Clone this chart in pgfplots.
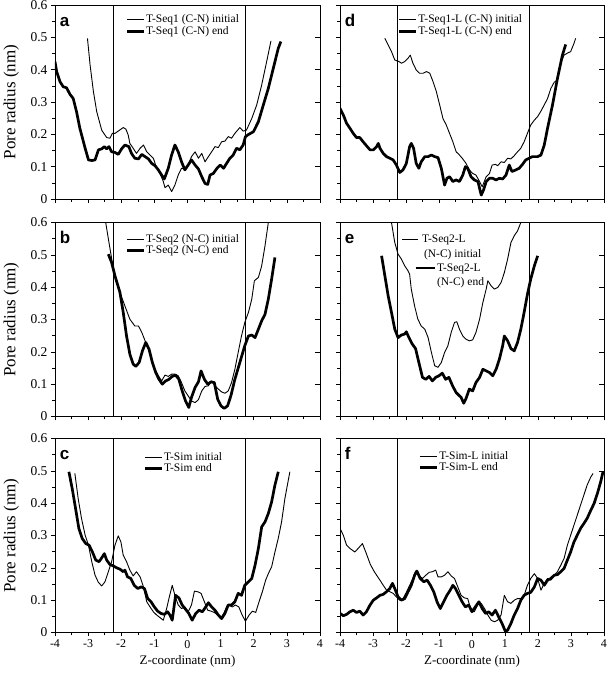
\documentclass[border=0pt]{standalone}
\usepackage{fontspec}
\setmainfont{Liberation Serif}
\newfontfamily\panelfont{Liberation Sans}
\usepackage{pgfplots}
\pgfplotsset{compat=1.18}
\pgfplotsset{
  panel/.style={
    scale only axis, height=194pt,
    xmin=-4, xmax=4, ymin=0, ymax=0.6,
    xtick={-4,-3,-2,-1,0,1,2,3,4}, minor x tick num=1,
    ytick={0,0.1,0.2,0.3,0.4,0.5,0.6}, minor y tick num=1,
    xtick pos=bottom, ytick pos=left,
    tick align=outside,
    major tick length=4pt, minor tick length=3pt,
    tick style={black, line width=0.6pt},
    axis line style={black, line width=0.8pt},
    /pgf/number format/assume math mode=true,
    xticklabel style={font=\fontsize{12}{12}\selectfont},
    yticklabel style={font=\fontsize{13.5}{14}\selectfont, /pgf/number format/fixed, /pgf/number format/precision=1},
    xlabel style={font=\fontsize{13}{14}\selectfont},
    ylabel style={font=\fontsize{17}{18}\selectfont, at={(axis description cs:-0.165,0.5)}, anchor=center, rotate=0},
    legend cell align=left,
    legend image code/.code={\draw[##1] (0pt,0pt) -- (17pt,0pt);},
    legend style={draw=none, fill=none, anchor=north west, inner sep=0pt,
      nodes={inner sep=1pt}, row sep=0pt, font=\fontsize{11.5}{12}\selectfont},
  },
  lcol/.style={panel, width=265pt, ylabel={Pore radius (nm)}},
  rcol/.style={panel, width=264pt, yticklabels={}},
  nox/.style={xticklabels={}},
  rticks/.style={scale only axis, height=194pt, xmin=-4, xmax=4, ymin=0, ymax=0.6,
    axis x line=none, axis y line*=right, ytick={0.1,0.2,0.3,0.4,0.5}, yticklabels={},
    tick align=inside, major tick length=4.5pt, tick style={black, line width=0.6pt},
    axis line style={black, line width=0.8pt}},
  thinc/.style={black, line width=0.9pt, no marks, line join=round},
  thickc/.style={black, line width=2.7pt, no marks, line join=round},
  vline/.style={black, line width=0.8pt, forget plot},
  eimgA/.style={legend image code/.code={\draw[##1] (0pt,0pt) -- (16pt,0pt); \path (33pt,0pt);}},
  eimgB/.style={legend image code/.code={\path (0pt,0pt); \draw[##1] (14pt,0pt) -- (33pt,0pt);}},
}
\newcommand{\vlines}{%
  \addplot[vline] coordinates {(-2.25,0) (-2.25,0.6)};
  \addplot[vline] coordinates {(1.75,0) (1.75,0.6)};}
\newcommand{\plabel}[1]{\node[anchor=base west, inner sep=0pt, font=\panelfont\bfseries\fontsize{17}{17}\selectfont] at (rel axis cs:0.018,0.89) {#1};}
\begin{document}
\begin{tikzpicture}
\useasboundingbox (0,0) rectangle (609pt,-673pt);
% ---------------- a ----------------
\begin{axis}[lcol, nox, at={(55pt,-5pt)}, anchor=north west,
  legend style={at={(rel axis cs:0.265,0.955)}}]
\vlines
\addplot[thinc] coordinates {(-3.02,0.497)(-2.94,0.414)(-2.84,0.332)(-2.74,0.270)(-2.59,0.213)(-2.44,0.190)(-2.34,0.188)(-2.27,0.203)(-2.19,0.203)(-2.09,0.210)(-1.94,0.221)(-1.86,0.216)(-1.79,0.198)(-1.74,0.172)(-1.64,0.157)(-1.54,0.141)(-1.43,0.157)(-1.33,0.167)(-1.23,0.146)(-1.13,0.136)(-1.03,0.126)(-0.93,0.095)(-0.83,0.079)(-0.73,0.054)(-0.68,0.035)(-0.58,0.043)(-0.48,0.023)(-0.38,0.043)(-0.28,0.074)(-0.18,0.095)(-0.08,0.093)(0.02,0.105)(0.12,0.131)(0.23,0.146)(0.33,0.126)(0.43,0.141)(0.53,0.115)(0.63,0.131)(0.73,0.146)(0.83,0.162)(0.93,0.159)(1.03,0.177)(1.13,0.179)(1.23,0.193)(1.33,0.188)(1.43,0.203)(1.58,0.221)(1.68,0.210)(1.78,0.213)(1.94,0.249)(2.09,0.291)(2.24,0.353)(2.39,0.425)(2.52,0.489)};
\addlegendentry{T-Seq1 (C-N) initial}
\addplot[thickc] coordinates {(-4,0.425)(-3.95,0.394)(-3.85,0.363)(-3.75,0.347)(-3.65,0.344)(-3.55,0.324)(-3.45,0.311)(-3.35,0.270)(-3.25,0.219)(-3.09,0.157)(-2.99,0.121)(-2.89,0.119)(-2.79,0.121)(-2.69,0.152)(-2.59,0.155)(-2.51,0.162)(-2.44,0.155)(-2.37,0.162)(-2.29,0.146)(-2.19,0.144)(-2.09,0.138)(-1.99,0.155)(-1.89,0.167)(-1.77,0.162)(-1.69,0.141)(-1.59,0.126)(-1.48,0.124)(-1.38,0.138)(-1.28,0.131)(-1.18,0.124)(-1.08,0.110)(-0.98,0.103)(-0.88,0.090)(-0.78,0.074)(-0.70,0.062)(-0.58,0.095)(-0.48,0.136)(-0.38,0.167)(-0.28,0.146)(-0.18,0.115)(-0.08,0.090)(0.02,0.105)(0.12,0.121)(0.23,0.105)(0.33,0.093)(0.43,0.069)(0.53,0.048)(0.61,0.045)(0.68,0.074)(0.78,0.079)(0.89,0.095)(0.99,0.105)(1.09,0.095)(1.18,0.110)(1.28,0.126)(1.38,0.136)(1.48,0.157)(1.58,0.152)(1.68,0.167)(1.75,0.193)(1.85,0.200)(1.99,0.208)(2.14,0.239)(2.29,0.291)(2.44,0.342)(2.59,0.404)(2.74,0.466)(2.82,0.487)};
\addlegendentry{T-Seq1 (C-N) end}
\plabel{a}
\end{axis}
\begin{axis}[rticks, width=265pt, at={(55pt,-5pt)}, anchor=north west]\end{axis}
% ---------------- d ----------------
\begin{axis}[rcol, nox, at={(340pt,-5pt)}, anchor=north west,
  legend style={at={(rel axis cs:0.218,0.955)}}]
\vlines
\addplot[thinc] coordinates {(-2.64,0.497)(-2.54,0.476)(-2.44,0.456)(-2.34,0.430)(-2.21,0.425)(-2.14,0.420)(-2.04,0.425)(-1.94,0.435)(-1.87,0.445)(-1.79,0.420)(-1.69,0.399)(-1.59,0.389)(-1.48,0.389)(-1.38,0.394)(-1.28,0.389)(-1.18,0.363)(-1.08,0.332)(-0.98,0.291)(-0.88,0.249)(-0.78,0.229)(-0.68,0.203)(-0.58,0.177)(-0.48,0.146)(-0.38,0.136)(-0.28,0.124)(-0.18,0.110)(-0.08,0.090)(0.02,0.079)(0.12,0.074)(0.23,0.054)(0.31,0.038)(0.43,0.069)(0.53,0.079)(0.61,0.105)(0.71,0.107)(0.78,0.103)(0.88,0.115)(0.98,0.113)(1.08,0.126)(1.18,0.124)(1.28,0.134)(1.38,0.146)(1.48,0.157)(1.58,0.177)(1.68,0.203)(1.78,0.229)(1.89,0.244)(1.99,0.255)(2.09,0.272)(2.19,0.291)(2.29,0.311)(2.39,0.342)(2.49,0.361)(2.59,0.368)(2.69,0.420)(2.79,0.445)(2.89,0.451)(2.99,0.456)(3.09,0.481)(3.14,0.497)};
\addlegendentry{T-Seq1-L (C-N) initial}
\addplot[thickc] coordinates {(-4,0.280)(-3.90,0.260)(-3.80,0.234)(-3.70,0.219)(-3.60,0.203)(-3.50,0.190)(-3.40,0.190)(-3.30,0.177)(-3.20,0.165)(-3.09,0.152)(-2.99,0.152)(-2.89,0.162)(-2.84,0.172)(-2.79,0.157)(-2.69,0.141)(-2.59,0.131)(-2.49,0.126)(-2.39,0.121)(-2.29,0.105)(-2.19,0.082)(-2.09,0.090)(-1.99,0.110)(-1.89,0.162)(-1.84,0.172)(-1.77,0.157)(-1.69,0.110)(-1.61,0.095)(-1.54,0.115)(-1.43,0.131)(-1.33,0.131)(-1.23,0.136)(-1.13,0.131)(-1.03,0.128)(-0.93,0.095)(-0.83,0.043)(-0.76,0.064)(-0.68,0.069)(-0.58,0.054)(-0.48,0.059)(-0.38,0.054)(-0.28,0.074)(-0.20,0.100)(-0.13,0.095)(-0.03,0.069)(0.07,0.059)(0.18,0.054)(0.28,0.012)(0.35,0.028)(0.43,0.054)(0.53,0.064)(0.63,0.064)(0.73,0.059)(0.83,0.064)(0.93,0.062)(1.03,0.074)(1.13,0.105)(1.21,0.085)(1.33,0.090)(1.43,0.095)(1.53,0.107)(1.63,0.121)(1.73,0.126)(1.83,0.131)(1.99,0.131)(2.09,0.136)(2.19,0.167)(2.29,0.219)(2.44,0.291)(2.59,0.373)(2.74,0.445)(2.84,0.478)};
\addlegendentry{T-Seq1-L (C-N) end}
\plabel{d}
\end{axis}
\begin{axis}[rticks, width=264pt, at={(340pt,-5pt)}, anchor=north west]\end{axis}
% ---------------- b ----------------
\begin{axis}[lcol, nox, at={(55pt,-222.5pt)}, anchor=north west,
  legend style={at={(rel axis cs:0.265,0.945)}}]
\vlines
\addplot[thinc] coordinates {(-2.50,0.63)(-2.47,0.6)(-2.37,0.538)(-2.27,0.476)(-2.17,0.425)(-2.04,0.384)(-1.89,0.342)(-1.74,0.301)(-1.59,0.280)(-1.48,0.280)(-1.38,0.260)(-1.28,0.234)(-1.18,0.208)(-1.08,0.177)(-0.98,0.146)(-0.88,0.126)(-0.78,0.110)(-0.68,0.128)(-0.58,0.124)(-0.48,0.131)(-0.38,0.131)(-0.28,0.126)(-0.18,0.105)(-0.08,0.079)(0.02,0.064)(0.12,0.048)(0.23,0.043)(0.33,0.052)(0.43,0.079)(0.53,0.093)(0.63,0.095)(0.73,0.110)(0.83,0.095)(0.93,0.085)(1.03,0.076)(1.13,0.072)(1.23,0.079)(1.33,0.105)(1.43,0.146)(1.53,0.198)(1.63,0.249)(1.73,0.291)(1.84,0.322)(1.94,0.363)(2.02,0.420)(2.14,0.430)(2.24,0.466)(2.34,0.528)(2.44,0.6)(2.47,0.63)};
\addlegendentry{T-Seq2 (N-C) initial}
\addplot[thickc] coordinates {(-2.39,0.502)(-2.29,0.476)(-2.19,0.435)(-2.04,0.384)(-1.94,0.322)(-1.84,0.249)(-1.74,0.193)(-1.64,0.162)(-1.56,0.155)(-1.46,0.167)(-1.36,0.203)(-1.26,0.229)(-1.16,0.208)(-1.06,0.167)(-0.96,0.136)(-0.86,0.115)(-0.76,0.100)(-0.66,0.110)(-0.56,0.115)(-0.46,0.124)(-0.36,0.128)(-0.26,0.115)(-0.16,0.079)(-0.06,0.048)(0.04,0.028)(0.12,0.059)(0.23,0.090)(0.33,0.107)(0.41,0.141)(0.51,0.115)(0.61,0.100)(0.71,0.107)(0.81,0.105)(0.91,0.054)(1.01,0.033)(1.11,0.025)(1.21,0.033)(1.31,0.064)(1.43,0.115)(1.58,0.167)(1.73,0.219)(1.84,0.249)(1.94,0.252)(2.04,0.244)(2.14,0.270)(2.24,0.296)(2.34,0.316)(2.44,0.363)(2.54,0.425)(2.64,0.492)};
\addlegendentry{T-Seq2 (N-C) end}
\plabel{b}
\end{axis}
\begin{axis}[rticks, width=265pt, at={(55pt,-222.5pt)}, anchor=north west]\end{axis}
% ---------------- e ----------------
\begin{axis}[rcol, nox, at={(340pt,-222.5pt)}, anchor=north west,
  legend style={at={(rel axis cs:0.228,0.942)}, row sep=3pt}]
\vlines
\addplot[thinc, eimgA] coordinates {(-2.47,0.63)(-2.44,0.6)(-2.34,0.538)(-2.24,0.502)(-2.14,0.487)(-2.04,0.466)(-1.94,0.451)(-1.89,0.440)(-1.84,0.394)(-1.74,0.342)(-1.64,0.301)(-1.54,0.280)(-1.43,0.270)(-1.33,0.244)(-1.23,0.198)(-1.13,0.157)(-1.03,0.152)(-0.93,0.167)(-0.83,0.198)(-0.73,0.219)(-0.63,0.260)(-0.53,0.291)(-0.46,0.293)(-0.38,0.270)(-0.28,0.249)(-0.18,0.239)(-0.08,0.234)(0.02,0.237)(0.12,0.260)(0.23,0.301)(0.33,0.353)(0.43,0.394)(0.48,0.420)(0.58,0.404)(0.68,0.394)(0.78,0.399)(0.88,0.414)(0.98,0.445)(1.08,0.487)(1.18,0.538)(1.28,0.559)(1.38,0.574)(1.48,0.6)(1.51,0.63)};
\addlegendentry{\hspace*{-15pt}T-Seq2-L}
\addlegendimage{empty legend}
\addlegendentry{\hspace*{-13pt}(N-C) initial}
\addplot[thickc, eimgB] coordinates {(-2.74,0.497)(-2.64,0.435)(-2.54,0.373)(-2.44,0.322)(-2.34,0.270)(-2.24,0.244)(-2.14,0.252)(-2.04,0.255)(-1.99,0.262)(-1.91,0.244)(-1.81,0.224)(-1.71,0.210)(-1.61,0.167)(-1.50,0.121)(-1.40,0.115)(-1.30,0.124)(-1.20,0.110)(-1.10,0.121)(-1.00,0.126)(-0.90,0.134)(-0.80,0.115)(-0.70,0.121)(-0.58,0.093)(-0.48,0.074)(-0.40,0.066)(-0.33,0.059)(-0.25,0.041)(-0.18,0.056)(-0.08,0.085)(0.02,0.079)(0.12,0.105)(0.23,0.121)(0.33,0.146)(0.43,0.141)(0.53,0.136)(0.63,0.126)(0.73,0.146)(0.83,0.177)(0.93,0.219)(0.98,0.249)(1.08,0.234)(1.18,0.210)(1.28,0.203)(1.38,0.229)(1.48,0.270)(1.58,0.322)(1.68,0.378)(1.78,0.425)(1.89,0.466)(1.99,0.497)};
\addlegendentry{T-Seq2-L}
\addlegendimage{empty legend}
\addlegendentry{(N-C) end}
\plabel{e}
\end{axis}
\begin{axis}[rticks, width=264pt, at={(340pt,-222.5pt)}, anchor=north west]\end{axis}
% ---------------- c ----------------
\begin{axis}[lcol, at={(55pt,-438.5pt)}, anchor=north west, xlabel={Z-coordinate (nm)},
  legend style={at={(rel axis cs:0.333,0.935)}}]
\vlines
\addplot[thinc] coordinates {(-3.40,0.492)(-3.30,0.414)(-3.20,0.353)(-3.09,0.301)(-2.99,0.270)(-2.89,0.219)(-2.79,0.177)(-2.69,0.155)(-2.59,0.144)(-2.49,0.157)(-2.39,0.188)(-2.29,0.219)(-2.19,0.270)(-2.09,0.299)(-2.01,0.280)(-1.94,0.239)(-1.84,0.219)(-1.74,0.193)(-1.64,0.175)(-1.54,0.188)(-1.43,0.172)(-1.33,0.141)(-1.23,0.095)(-1.13,0.079)(-1.03,0.064)(-0.93,0.054)(-0.83,0.046)(-0.73,0.038)(-0.63,0.074)(-0.56,0.105)(-0.46,0.146)(-0.38,0.115)(-0.28,0.085)(-0.18,0.074)(-0.08,0.079)(0.02,0.064)(0.12,0.085)(0.21,0.128)(0.31,0.126)(0.41,0.121)(0.51,0.095)(0.61,0.069)(0.71,0.066)(0.81,0.062)(0.91,0.054)(1.01,0.045)(1.11,0.062)(1.18,0.079)(1.25,0.085)(1.35,0.079)(1.45,0.085)(1.55,0.079)(1.65,0.054)(1.75,0.035)(1.86,0.054)(1.96,0.066)(2.06,0.062)(2.16,0.095)(2.26,0.126)(2.36,0.162)(2.44,0.182)(2.54,0.203)(2.64,0.249)(2.74,0.291)(2.84,0.342)(2.94,0.414)(3.09,0.497)};
\addlegendentry{T-Sim initial}
\addplot[thickc] coordinates {(-3.58,0.497)(-3.48,0.445)(-3.38,0.384)(-3.28,0.322)(-3.18,0.291)(-3.07,0.275)(-2.97,0.270)(-2.87,0.249)(-2.77,0.224)(-2.67,0.219)(-2.57,0.234)(-2.51,0.244)(-2.44,0.224)(-2.34,0.210)(-2.24,0.206)(-2.14,0.200)(-2.04,0.196)(-1.94,0.188)(-1.89,0.193)(-1.81,0.172)(-1.71,0.167)(-1.61,0.146)(-1.50,0.136)(-1.40,0.141)(-1.30,0.136)(-1.20,0.105)(-1.10,0.095)(-1.00,0.079)(-0.90,0.066)(-0.80,0.059)(-0.70,0.056)(-0.60,0.064)(-0.53,0.054)(-0.46,0.038)(-0.36,0.115)(-0.26,0.107)(-0.16,0.085)(-0.06,0.072)(0.04,0.059)(0.14,0.038)(0.25,0.059)(0.35,0.069)(0.45,0.064)(0.55,0.079)(0.63,0.092)(0.73,0.079)(0.83,0.069)(0.93,0.054)(1.03,0.043)(1.13,0.059)(1.23,0.085)(1.33,0.085)(1.43,0.095)(1.53,0.121)(1.63,0.115)(1.73,0.146)(1.84,0.157)(1.94,0.167)(2.04,0.208)(2.14,0.260)(2.24,0.327)(2.34,0.342)(2.44,0.368)(2.54,0.404)(2.64,0.456)(2.74,0.497)};
\addlegendentry{T-Sim end}
\plabel{c}
\end{axis}
\begin{axis}[rticks, width=265pt, at={(55pt,-438.5pt)}, anchor=north west]\end{axis}
% ---------------- f ----------------
\begin{axis}[rcol, at={(340pt,-438.5pt)}, anchor=north west, xlabel={Z-coordinate (nm)},
  legend style={at={(rel axis cs:0.297,0.940)}}]
\vlines
\addplot[thinc] coordinates {(-4,0.322)(-3.90,0.301)(-3.80,0.270)(-3.70,0.260)(-3.55,0.249)(-3.45,0.260)(-3.32,0.275)(-3.22,0.249)(-3.09,0.213)(-2.99,0.193)(-2.89,0.177)(-2.79,0.162)(-2.69,0.146)(-2.59,0.131)(-2.49,0.126)(-2.39,0.121)(-2.29,0.110)(-2.19,0.100)(-2.09,0.105)(-1.99,0.124)(-1.89,0.146)(-1.79,0.167)(-1.71,0.190)(-1.61,0.177)(-1.50,0.167)(-1.40,0.177)(-1.30,0.186)(-1.20,0.188)(-1.10,0.193)(-1.03,0.172)(-0.93,0.172)(-0.83,0.177)(-0.73,0.188)(-0.63,0.175)(-0.53,0.167)(-0.43,0.141)(-0.33,0.115)(-0.23,0.107)(-0.13,0.105)(-0.03,0.069)(0.07,0.064)(0.18,0.087)(0.28,0.090)(0.38,0.074)(0.48,0.054)(0.58,0.038)(0.68,0.033)(0.78,0.038)(0.88,0.054)(0.98,0.115)(1.08,0.095)(1.18,0.090)(1.28,0.100)(1.38,0.105)(1.48,0.105)(1.58,0.115)(1.68,0.146)(1.78,0.167)(1.89,0.182)(1.99,0.167)(2.09,0.131)(2.19,0.152)(2.29,0.167)(2.39,0.162)(2.49,0.177)(2.59,0.188)(2.69,0.208)(2.79,0.229)(2.89,0.270)(2.99,0.301)(3.09,0.332)(3.19,0.363)(3.29,0.394)(3.39,0.425)(3.49,0.456)(3.60,0.481)(3.67,0.492)};
\addlegendentry{T-Sim-L initial}
\addplot[thickc] coordinates {(-4,0.059)(-3.90,0.052)(-3.80,0.056)(-3.70,0.064)(-3.60,0.069)(-3.50,0.062)(-3.40,0.066)(-3.30,0.054)(-3.20,0.064)(-3.09,0.085)(-2.99,0.100)(-2.89,0.107)(-2.79,0.115)(-2.69,0.118)(-2.59,0.126)(-2.49,0.136)(-2.41,0.152)(-2.34,0.136)(-2.24,0.110)(-2.14,0.100)(-2.04,0.105)(-1.94,0.126)(-1.84,0.146)(-1.74,0.177)(-1.67,0.190)(-1.57,0.167)(-1.46,0.157)(-1.36,0.162)(-1.26,0.146)(-1.16,0.126)(-1.06,0.095)(-0.96,0.074)(-0.86,0.095)(-0.76,0.115)(-0.66,0.131)(-0.58,0.146)(-0.50,0.136)(-0.40,0.115)(-0.30,0.095)(-0.20,0.079)(-0.10,0.085)(0.00,0.064)(0.10,0.079)(0.21,0.095)(0.31,0.074)(0.41,0.059)(0.51,0.064)(0.61,0.054)(0.71,0.069)(0.81,0.048)(0.91,0.028)(1.01,0.004)(1.08,0.007)(1.18,0.028)(1.28,0.054)(1.38,0.074)(1.48,0.100)(1.58,0.115)(1.68,0.121)(1.78,0.124)(1.89,0.141)(1.99,0.167)(2.09,0.162)(2.19,0.146)(2.29,0.162)(2.39,0.167)(2.49,0.177)(2.59,0.179)(2.69,0.188)(2.79,0.198)(2.89,0.224)(2.99,0.249)(3.09,0.280)(3.19,0.301)(3.29,0.322)(3.39,0.337)(3.49,0.353)(3.60,0.378)(3.70,0.399)(3.80,0.430)(3.90,0.466)(3.97,0.497)};
\addlegendentry{T-Sim-L end}
\plabel{f}
\end{axis}
\begin{axis}[rticks, width=264pt, at={(340pt,-438.5pt)}, anchor=north west]\end{axis}
\end{tikzpicture}
\end{document}
